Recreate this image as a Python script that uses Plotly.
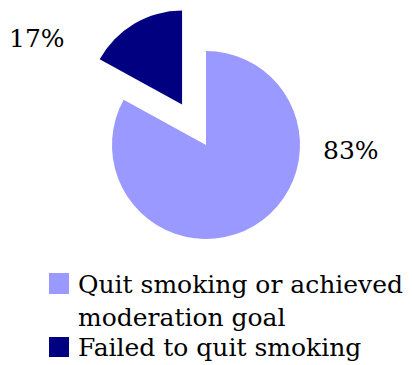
import plotly.graph_objects as go

categories = ["Quit smoking or achieved moderation goal", "Failed to quit smoking"]
legend_labels = ["Quit smoking or achieved<br>moderation goal", "Failed to quit smoking"]
values = [83, 17]
colors = ["#9999FF", "#000080"]
pulls = [0, 0.5]

W, H = 412, 365
FONT = "DejaVu Serif"

fig = go.Figure()
fig.add_trace(go.Pie(
    labels=categories, values=values, sort=False, direction="clockwise",
    rotation=0, pull=pulls, textinfo="none", hoverinfo="label+percent",
    marker=dict(colors=colors, line=dict(width=0)),
    domain=dict(x=[0.1, 0.9], y=[1 - 286 / H, 1 - 4 / H]),
    showlegend=False,
))

# percentage labels
label_pos = [(351, 150), (37, 38)]
annotations = []
for v, (px, py) in zip(values, label_pos):
    annotations.append(dict(
        x=px / W, y=1 - py / H, xref="paper", yref="paper",
        text=f"{v}%", showarrow=False, xanchor="center", yanchor="middle",
        font=dict(family=FONT, size=25, color="#000000"),
    ))

# custom legend
shapes = []
leg_sq = [(273, 294), (337, 357)]
leg_text_y = [(284, 317), (347,)]
for i, (c, lab) in enumerate(zip(colors, legend_labels)):
    y0, y1 = leg_sq[i]
    shapes.append(dict(type="rect", xref="paper", yref="paper",
                       x0=49 / W, x1=69 / W, y0=1 - y1 / H, y1=1 - y0 / H,
                       fillcolor=c, line=dict(width=0)))
    lines = lab.split("<br>")
    for ln, ty in zip(lines, leg_text_y[i]):
        annotations.append(dict(
            x=76 / W, y=1 - ty / H, xref="paper", yref="paper",
            text=ln, showarrow=False, xanchor="left", yanchor="middle",
            font=dict(family=FONT, size=25, color="#000000"),
        ))

fig.update_layout(
    width=W, height=H, margin=dict(l=0, r=0, t=0, b=0),
    paper_bgcolor="white", plot_bgcolor="white",
    font=dict(family=FONT),
    annotations=annotations, shapes=shapes,
)
fig.write_html("out.html")
